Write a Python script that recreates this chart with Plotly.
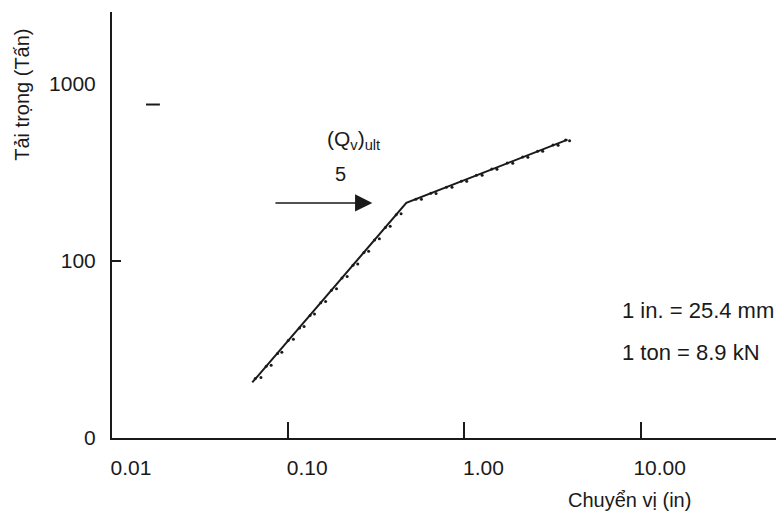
import math
import plotly.graph_objects as go

# Piecewise fitted line (displacement in, load ton)
line_x = [0.0625, 0.468, 3.85]
line_y = [20.6, 213, 485]

# Measured points (dots along the curve)
pts_x = [0.065, 0.070, 0.075, 0.080, 0.087, 0.092, 0.100, 0.107, 0.116, 0.123,
         0.133, 0.141, 0.153, 0.163, 0.176, 0.188, 0.202, 0.216, 0.233, 0.248,
         0.269, 0.286, 0.309, 0.329, 0.356, 0.379, 0.410, 0.437,
         0.53, 0.57, 0.645, 0.69, 0.79, 0.85, 0.96, 1.03, 1.17, 1.26, 1.43, 1.53,
         1.75, 1.88, 2.14, 2.29, 2.6, 2.78, 3.18, 3.4, 3.75, 3.95]
pts_y = [21.7, 22.0, 25.4, 25.8, 30.0, 30.5, 35.5, 36.1, 41.9, 42.6,
         49.3, 50.2, 58.1, 59.1, 68.4, 69.6, 80.3, 81.7, 94.6, 96.2,
         111.6, 113.5, 131.3, 133.5, 154.8, 157.4, 182.3, 185.0,
         223.4, 223.0, 241.5, 241.0, 261.4, 261.0, 282.6, 282.0, 305.6, 305.0,
         330.6, 330.0, 357.6, 357.0, 386.6, 386.0, 417.5, 417.0, 451.8, 451.0,
         482.5, 478.0]

x_tickvals = [0.01, 0.1, 1, 10]
x_ticktext = ["0.01", "0.10", "1.00", "10.00"]
y_tickvals = [10, 100, 1000]
y_ticktext = ["0", "100", "1000"]

# arrow pointing to ultimate load
arrow_x = [0.083, 0.30]
arrow_y = 213
dash_x = [0.0156, 0.0187]
dash_y = [766, 766]

FONT = "Arial, Liberation Sans, sans-serif"
INK = "#1a1a1a"

fig = go.Figure()
fig.add_trace(go.Scatter(x=line_x, y=line_y, mode="lines",
                         line=dict(color=INK, width=2), showlegend=False))
fig.add_trace(go.Scatter(x=pts_x, y=pts_y, mode="markers",
                         marker=dict(color=INK, size=3), showlegend=False))
fig.add_trace(go.Scatter(x=dash_x, y=dash_y, mode="lines",
                         line=dict(color=INK, width=2), showlegend=False))

fig.add_annotation(x=math.log10(arrow_x[1]), y=math.log10(arrow_y),
                   ax=math.log10(arrow_x[0]), ay=math.log10(arrow_y),
                   xref="x", yref="y", axref="x", ayref="y",
                   text="", showarrow=True, arrowhead=2, arrowsize=2.3,
                   arrowwidth=1.5, arrowcolor=INK)
fig.add_annotation(x=math.log10(0.197), y=math.log10(312), text="5",
                   showarrow=False, font=dict(family=FONT, size=20, color=INK))
fig.add_annotation(x=math.log10(0.236), y=math.log10(480),
                   text="(Q<sub>v</sub>)<sub>ult</sub>",
                   showarrow=False, font=dict(family=FONT, size=21, color=INK))
fig.add_annotation(x=0.765, xref="paper", xanchor="left", y=0.30, yref="paper",
                   yanchor="middle", text="1 in. = 25.4 mm", showarrow=False,
                   font=dict(family=FONT, size=22, color=INK))
fig.add_annotation(x=0.765, xref="paper", xanchor="left", y=0.20, yref="paper",
                   yanchor="middle", text="1 ton = 8.9 kN", showarrow=False,
                   font=dict(family=FONT, size=22, color=INK))
fig.add_annotation(x=0.78, xref="paper", xanchor="center", y=-0.146, yref="paper",
                   yanchor="middle", text="Chuyển vị (in)", showarrow=False,
                   font=dict(family=FONT, size=20, color=INK))
fig.add_annotation(x=-0.136, xref="paper", xanchor="center", y=0.805, yref="paper",
                   yanchor="middle", text="Tải trọng (Tấn)", showarrow=False,
                   textangle=-90,
                   font=dict(family=FONT, size=20, color=INK))

fig.update_layout(
    width=776, height=519,
    margin=dict(l=112, r=0, t=12, b=81),
    paper_bgcolor="white", plot_bgcolor="white",
    font=dict(family=FONT, size=21, color=INK),
    showlegend=False,
    xaxis=dict(type="log", range=[-2, 1.768], showgrid=False, zeroline=False,
               showline=True, linecolor=INK, linewidth=2,
               tickvals=x_tickvals, ticktext=x_ticktext,
               ticks="inside", ticklen=16, tickwidth=2, tickcolor=INK,
               ticklabelshift=19, ticklabelstandoff=10),
    yaxis=dict(type="log", range=[1, 3.407], showgrid=False, zeroline=False,
               showline=True, linecolor=INK, linewidth=2,
               tickvals=y_tickvals, ticktext=y_ticktext, ticks="",
               ticklabelstandoff=10,
               minor=dict(tickvals=[100], ticks="inside", ticklen=9,
                          tickwidth=2, tickcolor=INK, showgrid=False)),
)

fig.write_html("out.html")
